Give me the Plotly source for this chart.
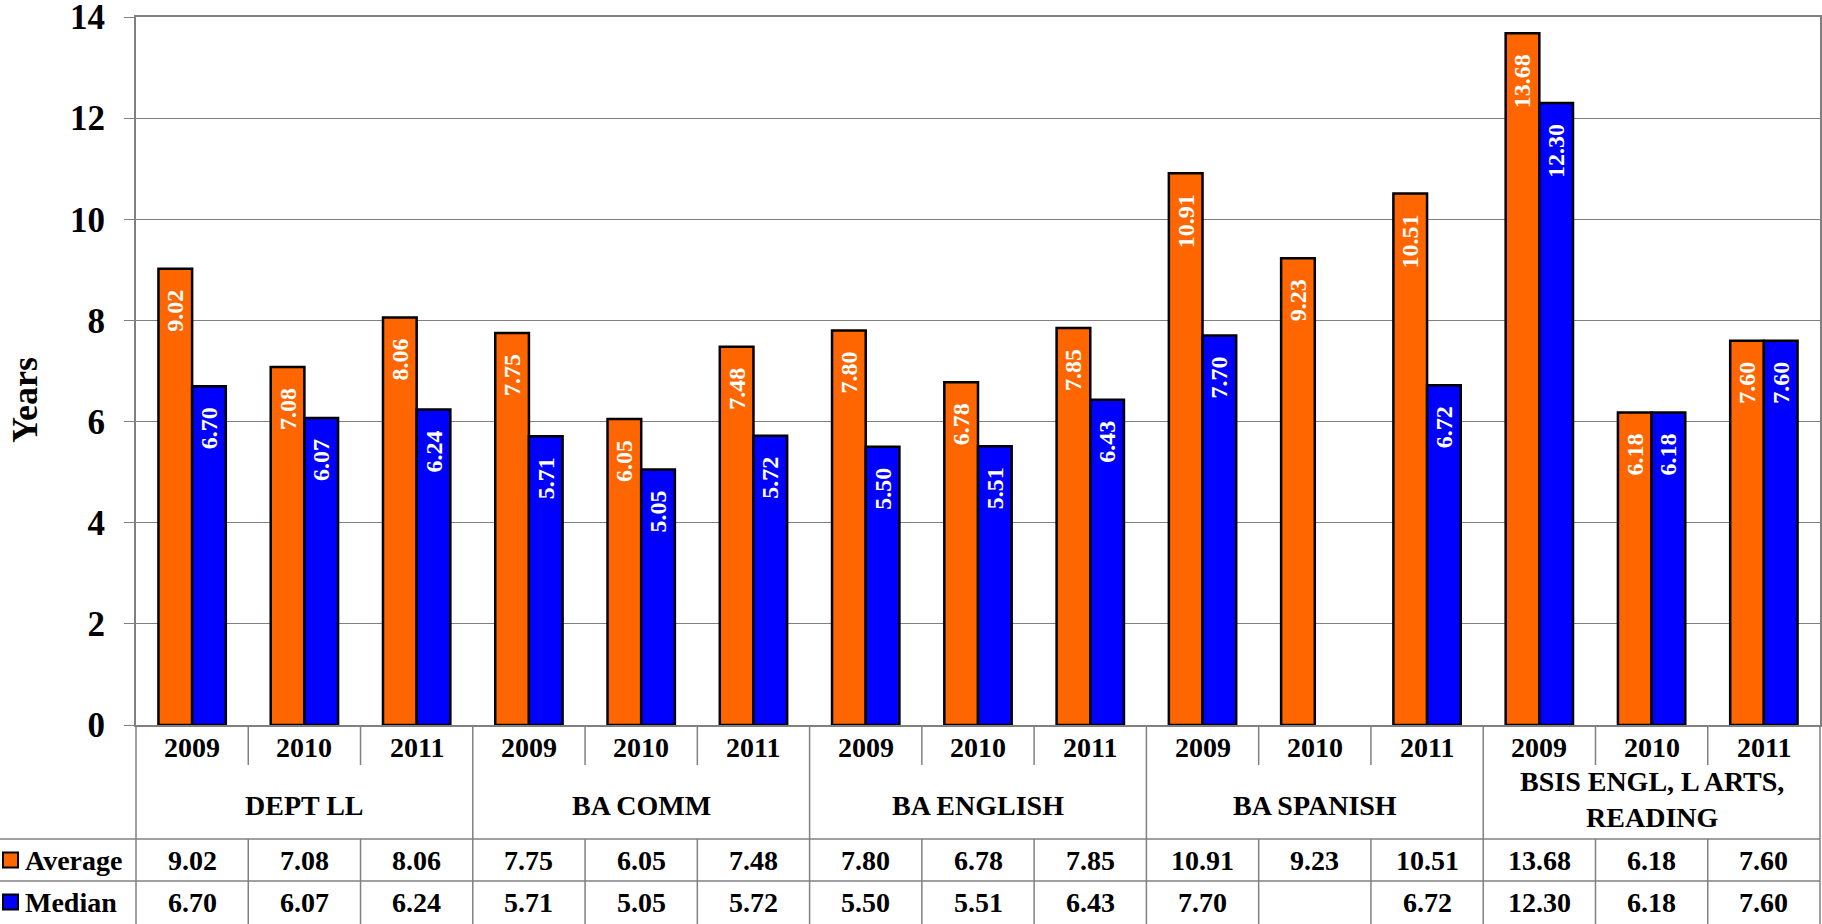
import plotly.graph_objects as go

programs = ["DEPT LL", "BA COMM", "BA ENGLISH", "BA SPANISH", "BSIS ENGL, L ARTS,<br>READING"]
years = ["2009", "2010", "2011"]
average = [9.02, 7.08, 8.06, 7.75, 6.05, 7.48, 7.80, 6.78, 7.85, 10.91, 9.23, 10.51, 13.68, 6.18, 7.60]
median = [6.70, 6.07, 6.24, 5.71, 5.05, 5.72, 5.50, 5.51, 6.43, 7.70, None, 6.72, 12.30, 6.18, 7.60]
y_ticks = [0, 2, 4, 6, 8, 10, 12, 14]

W, H = 1822, 924
PL, PR, PT, PB = 136, 1820, 17, 725


def py(v):
    return 1 - v / H


def px(v):
    return v / W


FONT = "Liberation Serif"
ORANGE = "#FF6600"
BLUE = "#0000FF"

n = len(average)
xs = list(range(n))

fig = go.Figure()
for vals, name, col in [(average, "Average", ORANGE), (median, "Median", BLUE)]:
    fig.add_trace(go.Bar(
        x=xs, y=vals, name=name, marker=dict(color=col, line=dict(color="black", width=2.5)),
        texttemplate="<b>%{y:.2f}</b>&nbsp;&nbsp;&nbsp;", textposition="inside", insidetextanchor="end",
        textangle=-90, textfont=dict(color="white", size=24, family=FONT), constraintext="none",
        cliponaxis=False,
    ))

fig.update_layout(
    width=W, height=H, margin=dict(l=0, r=0, t=0, b=0, autoexpand=False),
    paper_bgcolor="white", plot_bgcolor="white",
    barmode="group", bargap=0.4, bargroupgap=0, showlegend=False,
    font=dict(family=FONT, color="black"),
)
fig.update_xaxes(
    domain=[px(PL), px(PR)], range=[-0.5, n - 0.5], showticklabels=False, showgrid=False,
    zeroline=False, showline=True, linecolor="#808080", linewidth=2, mirror=True, ticks="",
    automargin=False,
)
fig.update_yaxes(
    domain=[py(PB), py(PT)], range=[0, 14], tickvals=y_ticks, ticktext=[f"<b>{t}</b>" for t in y_ticks],
    tickfont=dict(size=35, family=FONT, color="black"), ticks="outside", ticklen=10, tickcolor="#808080",
    showgrid=True, gridcolor="#808080", gridwidth=1, zeroline=False,
    showline=True, linecolor="#808080", linewidth=2, mirror=True, ticklabelstandoff=12,
    automargin=False, ticklabeloverflow="allow",
)

# Y axis title
fig.add_annotation(text="<b>Years</b>", x=px(25), y=py(400), xref="paper", yref="paper", textangle=-90,
                   xanchor="center", yanchor="middle",
                   showarrow=False, font=dict(size=36, family=FONT, color="black"))

shapes = []
LC = "#808080"
ROW_YEAR_BOT = 765
ROW_AVG_TOP = 839
ROW_MED_TOP = 881

# horizontal table lines
for yy in [ROW_AVG_TOP, ROW_MED_TOP]:
    shapes.append(dict(type="line", xref="paper", yref="paper", x0=0, x1=px(PR), y0=py(yy), y1=py(yy),
                       line=dict(color=LC, width=1.5)))
# left table border & right border
shapes.append(dict(type="line", xref="paper", yref="paper", x0=px(PL), x1=px(PL), y0=py(PB), y1=0,
                   line=dict(color=LC, width=1.5)))
shapes.append(dict(type="line", xref="paper", yref="paper", x0=px(PR), x1=px(PR), y0=py(PB), y1=0,
                   line=dict(color=LC, width=1.5)))
# vertical lines between columns
for i in range(1, n):
    xb = i - 0.5
    if i % 3 == 0:
        shapes.append(dict(type="line", xref="x", yref="paper", x0=xb, x1=xb, y0=py(PB), y1=0,
                           line=dict(color=LC, width=1.5)))
    else:
        shapes.append(dict(type="line", xref="x", yref="paper", x0=xb, x1=xb, y0=py(PB), y1=py(ROW_YEAR_BOT),
                           line=dict(color=LC, width=1.5)))
        shapes.append(dict(type="line", xref="x", yref="paper", x0=xb, x1=xb, y0=py(ROW_AVG_TOP), y1=0,
                           line=dict(color=LC, width=1.5)))
# legend keys
for yc, col in [(860, ORANGE), (902, BLUE)]:
    shapes.append(dict(type="rect", xref="paper", yref="paper", x0=px(3), x1=px(18), y0=py(yc + 7.5),
                       y1=py(yc - 7.5), fillcolor=col, line=dict(color="black", width=2)))
fig.update_layout(shapes=shapes)

TF = dict(size=28, family=FONT, color="black")


def ann(text, x, y, xref="x", xanchor="center"):
    fig.add_annotation(text=text, x=x, y=y, xref=xref, yref="paper", xanchor=xanchor, yanchor="middle",
                       showarrow=False, font=TF)


for i in xs:
    ann(f"<b>{years[i % 3]}</b>", i, py(747))
    ann(f"<b>{average[i]:.2f}</b>", i, py(860))
    if median[i] is not None:
        ann(f"<b>{median[i]:.2f}</b>", i, py(902))
for g, name in enumerate(programs):
    yc = 799 if "<br>" in name else 805
    ann(f"<b>{name}</b>", g * 3 + 1, py(yc))

ann("<b>Average</b>", px(23), py(860), xref="paper", xanchor="left")
ann("<b>Median</b>", px(23), py(902), xref="paper", xanchor="left")

fig.write_html("out.html", config={"displayModeBar": False},
               post_script="document.body.style.margin='0';")
